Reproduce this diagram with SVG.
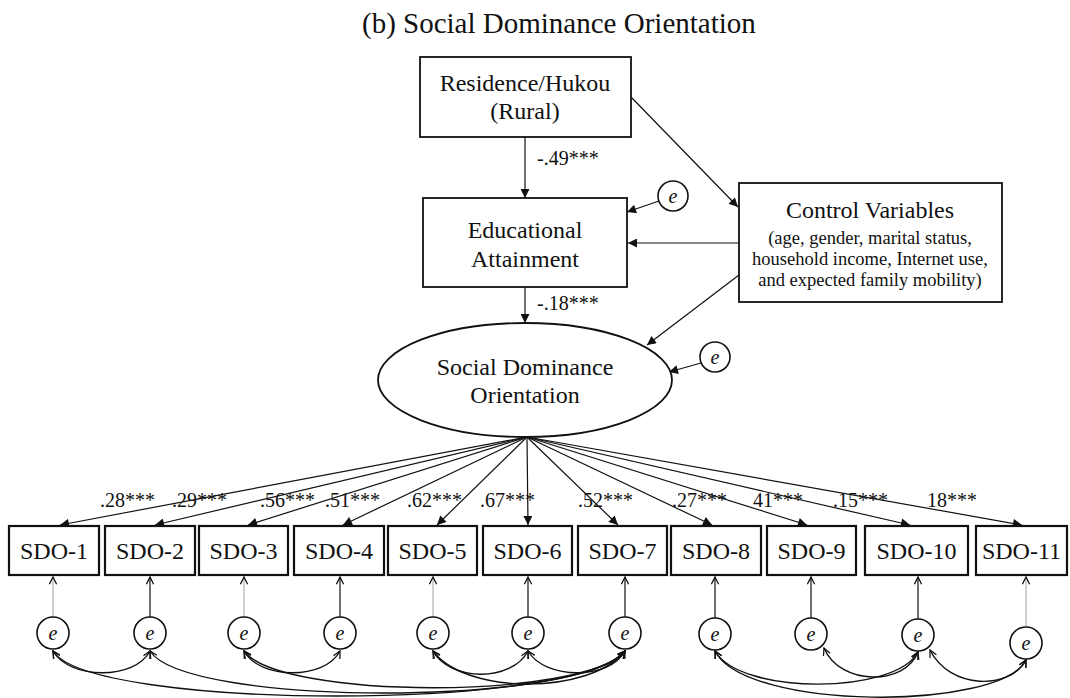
<svg xmlns="http://www.w3.org/2000/svg" width="1070" height="698" viewBox="0 0 1070 698">
<defs>
<style>
.t{font-family:"Liberation Serif","Times New Roman",serif;fill:#111;}
.n{font-size:24px;text-anchor:middle;}
.s{font-size:18.5px;text-anchor:middle;}
.l{font-size:20px;}
.e{font-size:20px;font-style:italic;text-anchor:middle;}
.box{fill:#fff;stroke:#111;stroke-width:1.8;}
.sbox{fill:#fff;stroke:#111;stroke-width:2.2;}
.c{fill:#fff;stroke:#111;stroke-width:1.6;}
.a{fill:none;stroke:#111;stroke-width:1.2;marker-end:url(#fa);}
.v{fill:none;stroke:#222;stroke-width:1.3;marker-end:url(#ov);}
.vl{fill:none;stroke:#aaa;stroke-width:1.1;marker-end:url(#ov);}
.cv{fill:none;stroke:#111;stroke-width:1.4;marker-start:url(#ov);marker-end:url(#ov);}
</style>
<marker id="fa" viewBox="0 0 10 10" refX="10" refY="5" markerWidth="11" markerHeight="9" markerUnits="userSpaceOnUse" orient="auto">
<path d="M0,0 L10,5 L0,10 z" fill="#111"/>
</marker>
<marker id="ov" viewBox="0 0 10 10" refX="9" refY="5" markerWidth="9" markerHeight="9" markerUnits="userSpaceOnUse" orient="auto-start-reverse">
<path d="M1,1 L9,5 L1,9" fill="none" stroke="#111" stroke-width="1.4"/>
</marker>
</defs>
<rect width="1070" height="698" fill="#fff"/>
<text class="t" x="362" y="33" font-size="29">(b) Social Dominance Orientation</text>

<g id="connectors">
<line class="a" x1="525" y1="137" x2="525" y2="198"/>
<line class="a" x1="631" y1="97" x2="738" y2="207"/>
<line class="a" x1="739" y1="243" x2="628" y2="243"/>
<line class="a" x1="659" y1="201" x2="627" y2="212"/>
<line class="a" x1="525" y1="287" x2="525" y2="323"/>
<line class="a" x1="739" y1="275" x2="647" y2="345"/>
<line class="a" x1="701" y1="363" x2="669" y2="372"/>
<line class="a" x1="527" y1="437" x2="60" y2="525"/>
<line class="a" x1="527" y1="437" x2="155" y2="525"/>
<line class="a" x1="527" y1="437" x2="248" y2="525"/>
<line class="a" x1="527" y1="437" x2="343" y2="525"/>
<line class="a" x1="527" y1="437" x2="437" y2="525"/>
<line class="a" x1="527" y1="437" x2="528" y2="525"/>
<line class="a" x1="527" y1="437" x2="618" y2="525"/>
<line class="a" x1="527" y1="437" x2="712" y2="525"/>
<line class="a" x1="527" y1="437" x2="807" y2="525"/>
<line class="a" x1="527" y1="437" x2="910" y2="525"/>
<line class="a" x1="527" y1="437" x2="1022" y2="525"/>
<line class="vl" x1="53" y1="617" x2="53" y2="577"/>
<line class="v" x1="150" y1="617" x2="150" y2="577" stroke-width="2"/>
<line class="vl" x1="244" y1="617" x2="244" y2="577"/>
<line class="v" x1="340" y1="617" x2="340" y2="577"/>
<line class="vl" x1="433" y1="617" x2="433" y2="577"/>
<line class="v" x1="528" y1="617" x2="528" y2="577"/>
<line class="v" x1="625" y1="617" x2="625" y2="577"/>
<line class="v" x1="715" y1="618" x2="715" y2="577"/>
<line class="v" x1="811" y1="618" x2="811" y2="577"/>
<line class="v" x1="918" y1="619" x2="918" y2="577"/>
<line class="vl" x1="1026" y1="627" x2="1026" y2="577"/>
<path class="cv" d="M53 651 C70 680,135 680,150 651"/>
<path class="cv" d="M53 651 C90 711,580 711,625 651"/>
<path class="cv" d="M150 651 C185 707,580 707,625 651"/>
<path class="cv" d="M244 651 C260 680,325 680,340 651"/>
<path class="cv" d="M244 651 C280 700,585 700,625 651"/>
<path class="cv" d="M433 651 C450 682,512 682,528 651"/>
<path class="cv" d="M433 651 C465 695,590 695,625 651"/>
<path class="cv" d="M528 651 C545 680,610 680,625 651"/>
<path class="cv" d="M715 651 C740 695,895 695,918 652"/>
<path class="cv" d="M715 651 C745 711,1000 711,1026 660"/>
<path class="cv" d="M824 648 C840 686,905 686,918 652"/>
<path class="cv" d="M930 650 C950 690,1010 690,1026 660"/>
</g>

<g id="path-labels" class="t l">
<text x="537" y="165">-.49***</text>
<text x="537" y="310">-.18***</text>
</g>

<g id="residence">
<rect class="box" x="420" y="57" width="211" height="80"/>
<text class="t n" x="525" y="91">Residence/Hukou</text>
<text class="t n" x="525" y="119">(Rural)</text>
</g>
<g id="education">
<rect class="box" x="423" y="198" width="204" height="89"/>
<text class="t n" x="525" y="238">Educational</text>
<text class="t n" x="525" y="267">Attainment</text>
</g>
<g id="e-edu">
<circle class="c" cx="673" cy="196" r="15"/>
<text class="t e" x="673" y="203">e</text>
</g>
<g id="control">
<rect class="box" x="739" y="183" width="263" height="119"/>
<text class="t n" x="870" y="218">Control Variables</text>
<text class="t s" x="870" y="244">(age, gender, marital status,</text>
<text class="t s" x="870" y="265">household income, Internet use,</text>
<text class="t s" x="870" y="286">and expected family mobility)</text>
</g>
<g id="sdo">
<ellipse class="box" cx="525" cy="380" rx="147" ry="57"/>
<text class="t n" x="525" y="375">Social Dominance</text>
<text class="t n" x="525" y="403">Orientation</text>
</g>
<g id="e-sdo">
<circle class="c" cx="715" cy="357" r="15"/>
<text class="t e" x="715" y="364">e</text>
</g>

<g id="loadings" class="t l">
<text x="100" y="507">.28***</text>
<text x="172" y="507">.29***</text>
<text x="260" y="507">.56***</text>
<text x="325" y="507">.51***</text>
<text x="407" y="507">.62***</text>
<text x="480" y="507">.67***</text>
<text x="578" y="507">.52***</text>
<text x="672" y="507">.27***</text>
<text x="753" y="507">41***</text>
<text x="833" y="507">.15***</text>
<text x="927" y="507">18***</text>
</g>

<g id="sdo1"><rect class="sbox" x="9" y="526" width="90" height="49"/><text class="t n" x="54" y="559">SDO-1</text></g>
<g id="sdo2"><rect class="sbox" x="105" y="526" width="90" height="49"/><text class="t n" x="150" y="559">SDO-2</text></g>
<g id="sdo3"><rect class="sbox" x="199" y="526" width="89" height="49"/><text class="t n" x="243.5" y="559">SDO-3</text></g>
<g id="sdo4"><rect class="sbox" x="294" y="526" width="90" height="49"/><text class="t n" x="339" y="559">SDO-4</text></g>
<g id="sdo5"><rect class="sbox" x="388" y="526" width="89" height="49"/><text class="t n" x="432.5" y="559">SDO-5</text></g>
<g id="sdo6"><rect class="sbox" x="483" y="526" width="89" height="49"/><text class="t n" x="527.5" y="559">SDO-6</text></g>
<g id="sdo7"><rect class="sbox" x="578" y="526" width="89" height="49"/><text class="t n" x="622.5" y="559">SDO-7</text></g>
<g id="sdo8"><rect class="sbox" x="671" y="526" width="90" height="49"/><text class="t n" x="716" y="559">SDO-8</text></g>
<g id="sdo9"><rect class="sbox" x="767" y="526" width="89" height="49"/><text class="t n" x="811.5" y="559">SDO-9</text></g>
<g id="sdo10"><rect class="sbox" x="865" y="526" width="103" height="49"/><text class="t n" x="916.5" y="559">SDO-10</text></g>
<g id="sdo11"><rect class="sbox" x="976" y="526" width="91" height="49"/><text class="t n" x="1021.5" y="559">SDO-11</text></g>

<g id="e1"><circle class="c" cx="53" cy="633" r="16"/><text class="t e" x="53" y="640">e</text></g>
<g id="e2"><circle class="c" cx="150" cy="633" r="16"/><text class="t e" x="150" y="640">e</text></g>
<g id="e3"><circle class="c" cx="244" cy="633" r="16"/><text class="t e" x="244" y="640">e</text></g>
<g id="e4"><circle class="c" cx="340" cy="633" r="16"/><text class="t e" x="340" y="640">e</text></g>
<g id="e5"><circle class="c" cx="433" cy="633" r="16"/><text class="t e" x="433" y="640">e</text></g>
<g id="e6"><circle class="c" cx="528" cy="633" r="16"/><text class="t e" x="528" y="640">e</text></g>
<g id="e7"><circle class="c" cx="625" cy="633" r="16"/><text class="t e" x="625" y="640">e</text></g>
<g id="e8"><circle class="c" cx="715" cy="634" r="16"/><text class="t e" x="715" y="641">e</text></g>
<g id="e9"><circle class="c" cx="811" cy="634" r="16"/><text class="t e" x="811" y="641">e</text></g>
<g id="e10"><circle class="c" cx="918" cy="635" r="16"/><text class="t e" x="918" y="642">e</text></g>
<g id="e11"><circle class="c" cx="1026" cy="643" r="16"/><text class="t e" x="1026" y="650">e</text></g>
</svg>
